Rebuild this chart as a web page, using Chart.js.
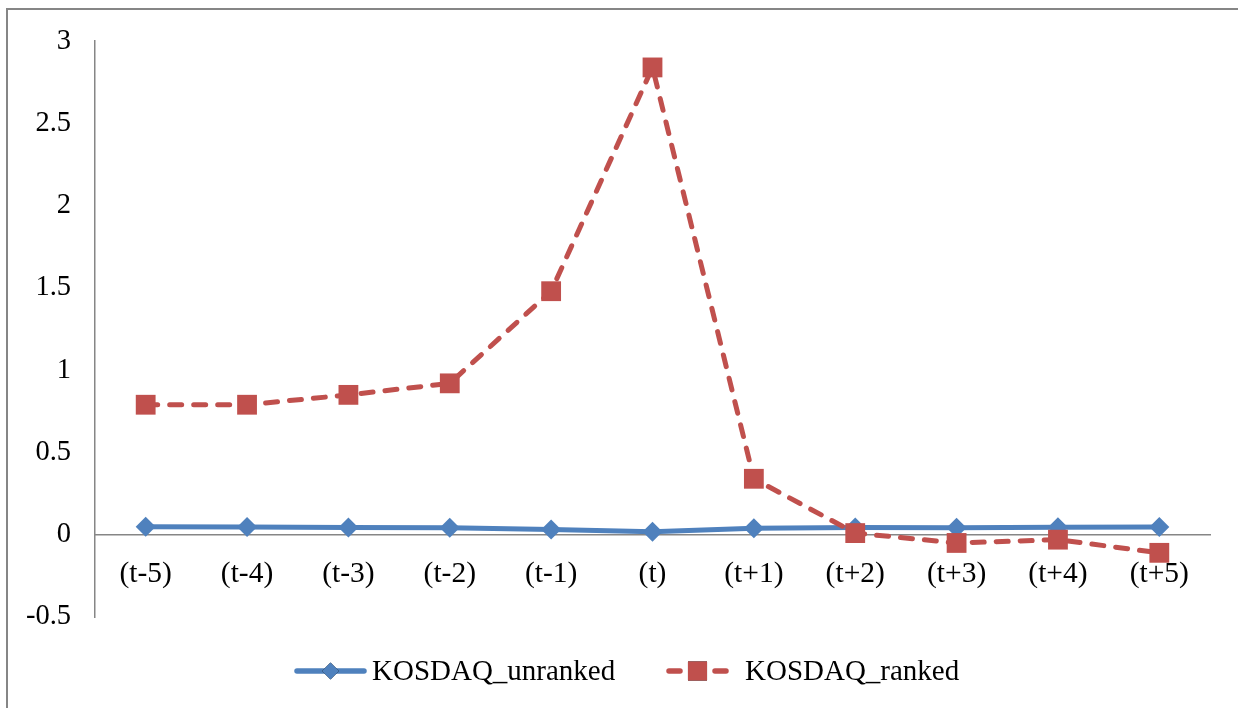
<!DOCTYPE html>
<html>
<head>
<meta charset="utf-8">
<script src="https://cdn.jsdelivr.net/npm/chart.js@4.4.1/dist/chart.umd.min.js"></script>
<style>
  html, body { margin: 0; padding: 0; background: #ffffff; }
  #wrap { width: 1238px; height: 708px; }
</style>
</head>
<body>
<div id="wrap"><canvas id="c" width="1238" height="708"></canvas></div>
<script>
// Event window around the ranking date
const periods = ['(t-5)', '(t-4)', '(t-3)', '(t-2)', '(t-1)', '(t)', '(t+1)', '(t+2)', '(t+3)', '(t+4)', '(t+5)'];
const unranked = [0.048, 0.047, 0.044, 0.042, 0.032, 0.018, 0.039, 0.044, 0.043, 0.045, 0.047];
const ranked = [0.79, 0.79, 0.85, 0.92, 1.48, 2.84, 0.34, 0.01, -0.05, -0.03, -0.11];
const yTicks = [-0.5, 0, 0.5, 1, 1.5, 2, 2.5, 3];

const BLUE = '#4F81BD';
const RED = '#C0504D';
const AXIS = '#868686';
const FONT = 'Liberation Serif, Times New Roman, serif';

// Outer frame and white background
const framePlugin = {
  id: 'frame',
  beforeDraw(chart) {
    const ctx = chart.ctx;
    ctx.save();
    ctx.fillStyle = '#ffffff';
    ctx.fillRect(0, 0, chart.width, chart.height);
    ctx.strokeStyle = AXIS;
    ctx.lineWidth = 2;
    ctx.strokeRect(7, 9, chart.width + 20, chart.height + 20);
    ctx.restore();
  }
};

// Legend below the plot: a short line sample with its marker, then the label
const legendPlugin = {
  id: 'lineLegend',
  afterDraw(chart) {
    const ctx = chart.ctx;
    const y = 671;
    const items = [
      { x0: 297, x1: 364, markerR: 8.5, textX: 372 },
      { x0: 669, x1: 726, markerR: 13.5, textX: 745 }
    ];
    ctx.save();
    chart.data.datasets.forEach((ds, i) => {
      const it = items[i];
      const cx = (it.x0 + it.x1) / 2;
      ctx.strokeStyle = ds.borderColor;
      ctx.lineWidth = 5.5;
      ctx.lineCap = 'round';
      ctx.beginPath();
      if (ds.borderDash) {
        // one short dash on each side of the marker
        ctx.moveTo(it.x0, y);
        ctx.lineTo(it.x0 + 11, y);
        ctx.moveTo(it.x1 - 11, y);
        ctx.lineTo(it.x1, y);
      } else {
        ctx.moveTo(it.x0, y);
        ctx.lineTo(it.x1, y);
      }
      ctx.stroke();
      Chart.helpers.drawPoint(ctx, {
        pointStyle: ds.pointStyle,
        radius: it.markerR,
        borderWidth: 0
      }, cx, y);
      ctx.fillStyle = ds.pointBackgroundColor;
      ctx.fill();
      ctx.fillStyle = '#000000';
      ctx.font = '29px ' + FONT;
      ctx.textBaseline = 'middle';
      ctx.textAlign = 'left';
      ctx.fillText(ds.label, it.textX, y + 1);
    });
    ctx.restore();
  }
};

new Chart(document.getElementById('c'), {
  type: 'line',
  data: {
    labels: periods,
    datasets: [
      {
        label: 'KOSDAQ_unranked',
        data: unranked,
        order: 2,
        borderColor: BLUE,
        backgroundColor: BLUE,
        borderWidth: 5,
        pointStyle: 'rectRot',
        pointRadius: 10,
        pointHoverRadius: 10,
        pointBackgroundColor: BLUE,
        pointBorderColor: BLUE,
        pointBorderWidth: 0,
        tension: 0
      },
      {
        label: 'KOSDAQ_ranked',
        data: ranked,
        order: 1,
        borderColor: RED,
        backgroundColor: RED,
        borderWidth: 5,
        borderDash: [12, 12],
        borderCapStyle: 'round',
        pointStyle: 'rect',
        pointRadius: 14,
        pointHoverRadius: 14,
        pointBackgroundColor: RED,
        pointBorderColor: RED,
        pointBorderWidth: 0,
        tension: 0
      }
    ]
  },
  options: {
    responsive: false,
    animation: false,
    events: [],
    layout: { padding: { left: 0, right: 28, top: 40, bottom: 91 } },
    plugins: {
      legend: { display: false },
      tooltip: { enabled: false }
    },
    scales: {
      x: {
        type: 'category',
        position: { y: 0 },
        offset: true,
        grid: { display: false, drawTicks: false },
        border: { display: true, color: AXIS, width: 1.5 },
        ticks: {
          color: '#000000',
          font: { family: FONT, size: 29.5 },
          padding: 22,
          maxRotation: 0,
          autoSkip: false
        }
      },
      y: {
        min: -0.5,
        max: 3,
        grid: { display: false, drawTicks: false },
        border: { display: true, color: AXIS, width: 1.5 },
        afterBuildTicks(scale) {
          scale.ticks = yTicks.map(v => ({ value: v }));
        },
        afterFit(scale) {
          scale.width = 95;
        },
        ticks: {
          color: '#000000',
          font: { family: FONT, size: 28.5 },
          padding: 24,
          callback: v => String(v)
        }
      }
    }
  },
  plugins: [framePlugin, legendPlugin]
});
</script>
</body>
</html>
